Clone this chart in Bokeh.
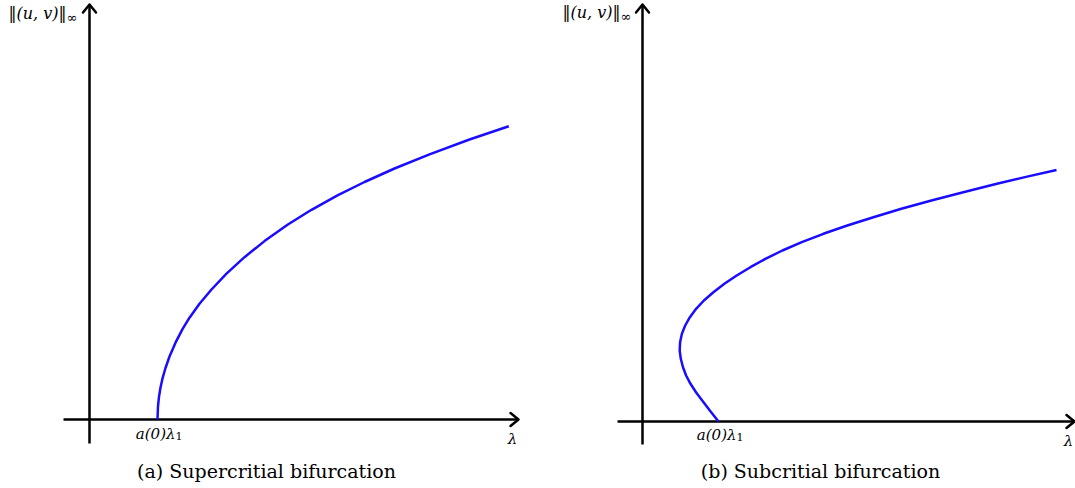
from bokeh.plotting import figure
from bokeh.layouts import row
from bokeh.core.properties import value
from bokeh.embed import file_html
from bokeh.resources import INLINE

# ---------------- data ----------------
# (a) supercritical branch: lambda (horizontal) vs ||(u,v)||_inf (vertical)
sup_lambda = [68, 68.5, 69.5, 71, 73, 76, 80, 86, 93, 100, 110, 122, 137, 155, 175,
              198, 222, 248, 275, 305, 340, 380, 419.3]
sup_norm = [0, 13.2, 22.8, 32, 41.1, 51.5, 63, 76.8, 90.3, 101.8, 115.7, 130, 145.8,
            162.3, 178.4, 194.7, 209.7, 224.1, 237.5, 251.0, 265.2, 280.0, 293.2]

# (b) subcritical branch
sub_lambda = [76, 67.7, 59.7, 53.5, 48, 43.6, 40.5, 38.3, 37.2, 37.6, 39.4, 42.7, 47.4,
              53.6, 61.4, 70.9, 81.9, 94.2, 107.9, 122.9, 139.9, 159.3, 180.9, 204.8,
              230.9, 258.9, 288.9, 320.8, 354.4, 383.5, 414]
sub_norm = [0, 10.5, 21, 29.3, 37.7, 46, 54.3, 62.7, 71, 79.3, 87.7, 96, 104.3,
            112.7, 121, 129.3, 137.7, 146, 154.3, 162.7, 171, 179.3, 187.7, 196,
            204.3, 212.7, 221, 229.3, 237.7, 244.6, 251.5]

captions = ["(a) Supercritial bifurcation", "(b) Subcritial bifurcation"]
y_label = "‖(u, v)‖"
y_label_sub = "∞"
x_label = "λ"
bif_label = "a(0)λ"
bif_label_sub = "1"

# ---------------- style ----------------
H = 488
SERIF = value("DejaVu Serif")
CURVE_COLOR = "#1a0dff"
AX_W = 2.5
HEAD_LEN, HEAD_HALF = 8, 6.5


def panel(width, x_range, y_range, axis_x, axis_y, lam, nrm, caption, cap_x, cap_y, lab_y,
          lab_dx, bif_dy):
    p = figure(width=width, height=H, x_range=x_range, y_range=y_range,
               output_backend="svg", toolbar_location=None, title=None,
               x_axis_location=None, y_axis_location=None, min_border=0,
               outline_line_color=None, background_fill_color="white",
               border_fill_color="white")
    p.grid.visible = False
    sx = width / (x_range[1] - x_range[0])
    sy = H / (y_range[1] - y_range[0])
    L_x, H_x = HEAD_LEN / sx, HEAD_HALF / sy
    L_y, H_y = HEAD_LEN / sy, HEAD_HALF / sx

    # axes
    p.segment(x0=[axis_x[0], 0], y0=[0, axis_y[0]], x1=[axis_x[1], 0], y1=[0, axis_y[1]],
              line_color="black", line_width=AX_W, line_cap="butt")
    p.multi_line(xs=[[axis_x[1] - L_x, axis_x[1], axis_x[1] - L_x], [-H_y, 0, H_y]],
                 ys=[[H_x, 0, -H_x], [axis_y[1] - L_y, axis_y[1], axis_y[1] - L_y]],
                 line_color="black", line_width=AX_W, line_cap="round", line_join="round")

    # branch
    p.line(lam, nrm, line_color=CURVE_COLOR, line_width=2.5, line_join="round")

    # labels
    p.text(x=[0], y=[lab_y], text=[y_label], text_align="right", text_baseline="alphabetic",
           x_offset=lab_dx, text_font=SERIF, text_font_size="16px", text_font_style="italic",
           text_color="black")
    p.text(x=[0], y=[lab_y], text=[y_label_sub], text_align="left", text_baseline="alphabetic",
           x_offset=lab_dx, y_offset=4, text_font=SERIF, text_font_size="13px",
           text_color="black")

    p.text(x=[lam[0]], y=[0], text=[bif_label], text_align="right", text_baseline="alphabetic",
           x_offset=18, y_offset=bif_dy, text_font=SERIF, text_font_size="15px",
           text_font_style="italic", text_color="black")
    p.text(x=[lam[0]], y=[0], text=[bif_label_sub], text_align="left", text_baseline="alphabetic",
           x_offset=18, y_offset=bif_dy + 2, text_font=SERIF, text_font_size="11px",
           text_color="black")

    p.text(x=[axis_x[1]], y=[0], text=[x_label], text_align="center", text_baseline="alphabetic",
           x_offset=-6, y_offset=19, text_font=SERIF, text_font_size="15px",
           text_font_style="italic", text_color="black")

    p.text(x=[cap_x], y=[cap_y], text=[caption], text_align="center",
           text_baseline="alphabetic", text_font=SERIF, text_font_size="19px",
           text_color="black")
    return p


p1 = panel(540, (-89, 451), (-69, 419), (-26, 429), (-24, 415),
           sup_lambda, sup_norm, captions[0], 177, -51, 406, -23, 14)
p2 = panel(535, (-102, 433), (-67, 421), (-25, 432), (-23, 417),
           sub_lambda, sub_norm, captions[1], 178, -49, 409, -22, 13)

layout = row(p1, p2)
open("out.html", "w").write(file_html(layout, INLINE))
